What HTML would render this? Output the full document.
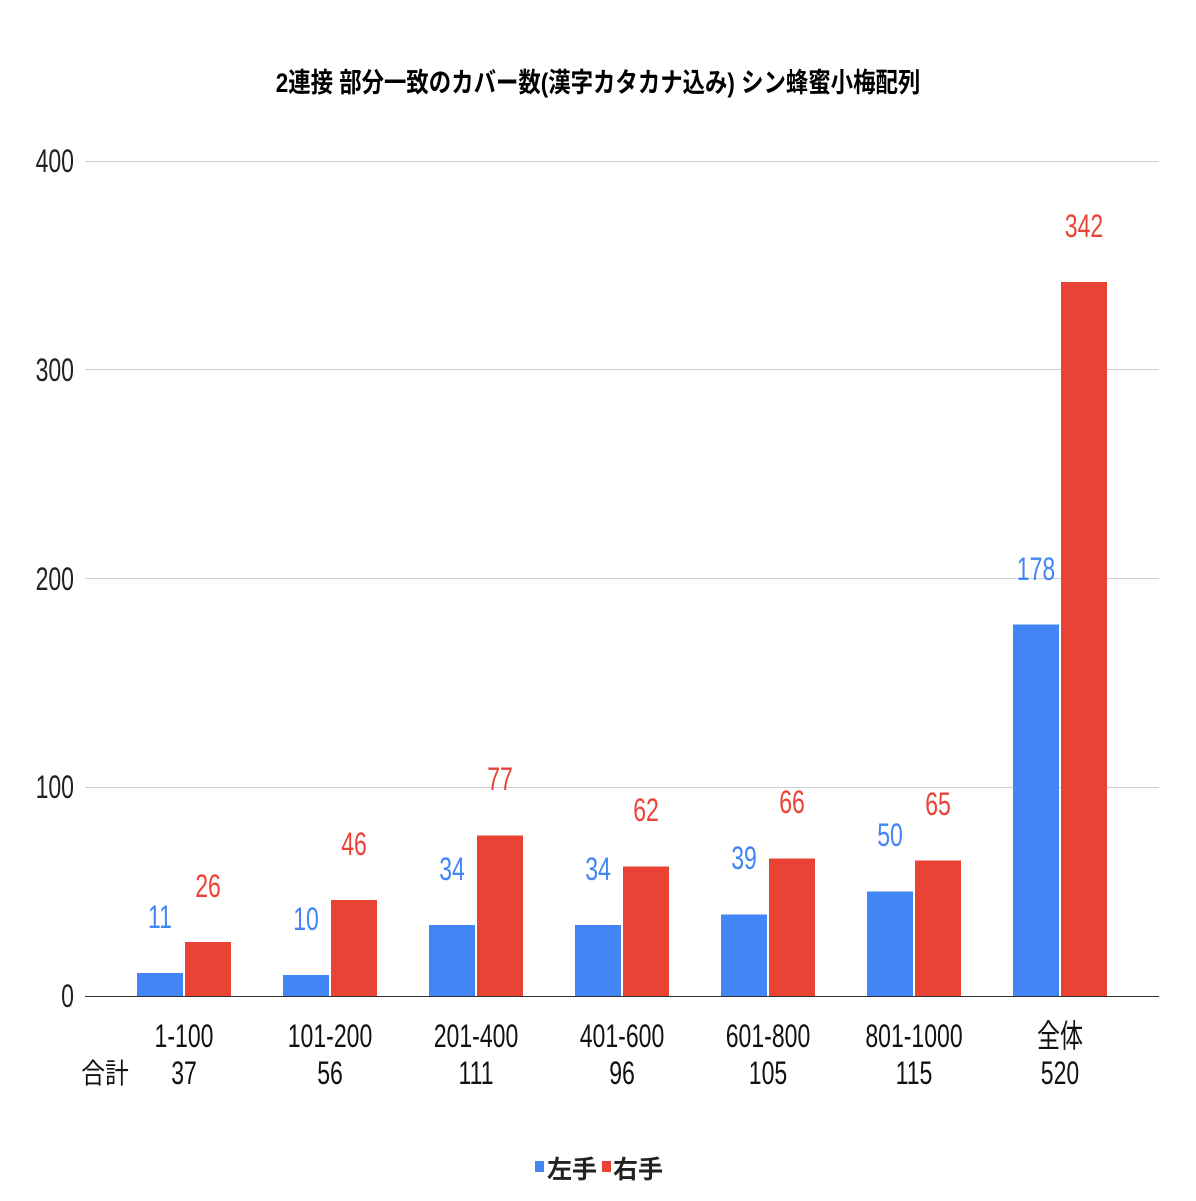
<!DOCTYPE html>
<html><head><meta charset="utf-8"><style>
html,body{margin:0;padding:0;background:#fff;}
svg text{font-family:"Liberation Sans","Noto Sans CJK JP",sans-serif;}
</style></head><body>
<svg width="1196" height="1196" viewBox="0 0 1196 1196" xmlns="http://www.w3.org/2000/svg">
<rect width="1196" height="1196" fill="#fff"/>
<g transform="translate(598,92) scale(0.83,1)"><text x="0" y="0" text-anchor="middle" font-size="27" font-weight="bold" fill="#000">2連接 部分一致のカバー数(漢字カタカナ込み) シン蜂蜜小梅配列</text></g>
<g stroke="#d0d0d0" stroke-width="1">
<line x1="85" x2="1159" y1="161.5" y2="161.5"/>
<line x1="85" x2="1159" y1="369.5" y2="369.5"/>
<line x1="85" x2="1159" y1="578.5" y2="578.5"/>
<line x1="85" x2="1159" y1="787.5" y2="787.5"/>
</g>
<g font-size="32" fill="#222">
<g transform="translate(74,172) scale(0.72,1)"><text text-anchor="end">400</text></g>
<g transform="translate(74,381) scale(0.72,1)"><text text-anchor="end">300</text></g>
<g transform="translate(74,590) scale(0.72,1)"><text text-anchor="end">200</text></g>
<g transform="translate(74,798) scale(0.72,1)"><text text-anchor="end">100</text></g>
<g transform="translate(74,1007) scale(0.72,1)"><text text-anchor="end">0</text></g>
</g>
<g>
<rect x="137" y="973" width="46" height="23" fill="#4285f4"/><rect x="185" y="942" width="46" height="54" fill="#ea4335"/>
<rect x="283" y="975" width="46" height="21" fill="#4285f4"/><rect x="331" y="900" width="46" height="96" fill="#ea4335"/>
<rect x="429" y="925" width="46" height="71" fill="#4285f4"/><rect x="477" y="835.5" width="46" height="160.5" fill="#ea4335"/>
<rect x="575" y="925" width="46" height="71" fill="#4285f4"/><rect x="623" y="866.5" width="46" height="129.5" fill="#ea4335"/>
<rect x="721" y="914.5" width="46" height="81.5" fill="#4285f4"/><rect x="769" y="858.5" width="46" height="137.5" fill="#ea4335"/>
<rect x="867" y="891.5" width="46" height="104.5" fill="#4285f4"/><rect x="915" y="860.5" width="46" height="135.5" fill="#ea4335"/>
<rect x="1013" y="624.5" width="46" height="371.5" fill="#4285f4"/><rect x="1061" y="282" width="46" height="714" fill="#ea4335"/>
</g>
<line x1="85" x2="1159" y1="996.5" y2="996.5" stroke="#333" stroke-width="1"/>
<g font-size="32">
<g fill="#4285f4">
<g transform="translate(160,928) scale(0.72,1)"><text text-anchor="middle">11</text></g>
<g transform="translate(306,930) scale(0.72,1)"><text text-anchor="middle">10</text></g>
<g transform="translate(452,880) scale(0.72,1)"><text text-anchor="middle">34</text></g>
<g transform="translate(598,880) scale(0.72,1)"><text text-anchor="middle">34</text></g>
<g transform="translate(744,869) scale(0.72,1)"><text text-anchor="middle">39</text></g>
<g transform="translate(890,846) scale(0.72,1)"><text text-anchor="middle">50</text></g>
<g transform="translate(1036,580) scale(0.72,1)"><text text-anchor="middle">178</text></g>
</g>
<g fill="#ea4335">
<g transform="translate(208,897) scale(0.72,1)"><text text-anchor="middle">26</text></g>
<g transform="translate(354,855) scale(0.72,1)"><text text-anchor="middle">46</text></g>
<g transform="translate(500,790) scale(0.72,1)"><text text-anchor="middle">77</text></g>
<g transform="translate(646,821) scale(0.72,1)"><text text-anchor="middle">62</text></g>
<g transform="translate(792,813) scale(0.72,1)"><text text-anchor="middle">66</text></g>
<g transform="translate(938,815) scale(0.72,1)"><text text-anchor="middle">65</text></g>
<g transform="translate(1084,237) scale(0.72,1)"><text text-anchor="middle">342</text></g>
</g>
</g>
<g font-size="32" fill="#111">
<g transform="translate(184,1047) scale(0.72,1)"><text text-anchor="middle">1-100</text><text y="37" text-anchor="middle">37</text></g>
<g transform="translate(330,1047) scale(0.72,1)"><text text-anchor="middle">101-200</text><text y="37" text-anchor="middle">56</text></g>
<g transform="translate(476,1047) scale(0.72,1)"><text text-anchor="middle">201-400</text><text y="37" text-anchor="middle">111</text></g>
<g transform="translate(622,1047) scale(0.72,1)"><text text-anchor="middle">401-600</text><text y="37" text-anchor="middle">96</text></g>
<g transform="translate(768,1047) scale(0.72,1)"><text text-anchor="middle">601-800</text><text y="37" text-anchor="middle">105</text></g>
<g transform="translate(914,1047) scale(0.72,1)"><text text-anchor="middle">801-1000</text><text y="37" text-anchor="middle">115</text></g>
<g transform="translate(1060,1047) scale(0.72,1)"><text text-anchor="middle">全体</text><text y="37" text-anchor="middle">520</text></g>
<g transform="translate(105,1083) scale(0.85,1)"><text text-anchor="middle" font-size="28">合計</text></g>
</g>
<rect x="535" y="1161" width="9" height="11" fill="#4285f4"/>
<g transform="translate(547,1178)"><text font-size="25" font-weight="bold" fill="#222">左手</text></g>
<rect x="602" y="1161" width="9" height="11" fill="#ea4335"/>
<g transform="translate(613,1178)"><text font-size="25" font-weight="bold" fill="#222">右手</text></g>
</svg>
</body></html>
